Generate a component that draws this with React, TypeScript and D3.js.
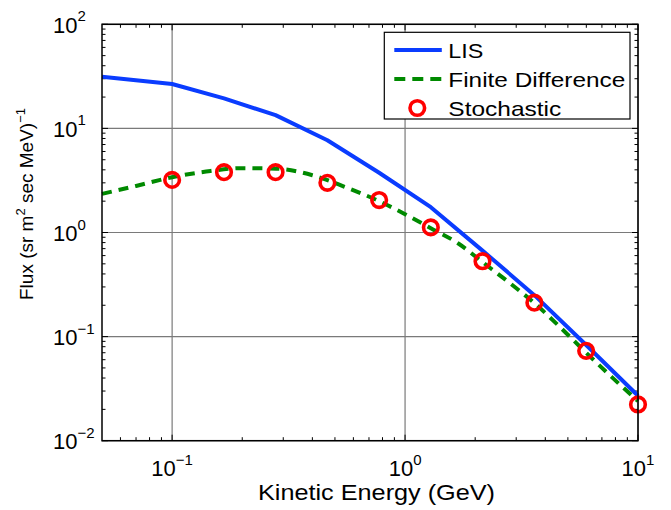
import { useEffect, useRef } from "react";
import * as d3 from "d3";

const WIDTH = 671;
const HEIGHT = 510;

// kinetic energies of the stochastic runs (GeV)
const energy = [0.1, 0.167, 0.278, 0.464, 0.774, 1.29, 2.15, 3.59, 5.99, 10];
const stochFlux = [3.2, 3.8, 3.8, 3.0, 2.05, 1.12, 0.53, 0.212, 0.073, 0.0223];

// local interstellar spectrum
const lisEnergy = [0.05, 0.1, 0.167, 0.278, 0.464, 0.774, 1.29, 2.15, 3.59, 5.99, 10];
const lisFlux = [31.3, 26.7, 19.4, 13.4, 7.7, 3.75, 1.75, 0.67, 0.25, 0.083, 0.027];

// finite difference solution
const fdEnergy = [0.05, 0.07, 0.1, 0.14, 0.2, 0.28, 0.4, 0.55, 0.774, 1.0, 1.29, 1.7, 2.15, 2.8, 3.59, 4.6, 5.99, 7.7, 10];
const fdFlux = [2.35, 2.8, 3.4, 3.85, 4.15, 4.1, 3.55, 2.75, 2.0, 1.5, 1.1, 0.78, 0.52, 0.33, 0.21, 0.125, 0.07, 0.041, 0.024];

const xTickExp = [-1, 0, 1];
const yTickExp = [-2, -1, 0, 1, 2];

const legendLabels = ["LIS", "Finite Difference", "Stochastic"];
// measured label widths in the reference (px)
const legendWidths = [35, 177, 113];

const BLUE = "#0a3cff";
const GREEN = "#008a00";
const RED = "#ff0000";
const FONT = "'Liberation Sans', Arial, Helvetica, sans-serif";

function expLabel(e: number) {
  return e < 0 ? "\u2212" + Math.abs(e) : String(e);
}

function buildChart(svgEl: SVGSVGElement) {
  const margin = { top: 24.3, right: 33, bottom: 69.3, left: 102 };
  const innerW = WIDTH - margin.left - margin.right;
  const innerH = HEIGHT - margin.top - margin.bottom;

  const svg = d3.select(svgEl);
  svg.selectAll("*").remove();
  svg.attr("width", WIDTH).attr("height", HEIGHT).style("font-family", FONT);

  svg.append("rect").attr("width", WIDTH).attr("height", HEIGHT).attr("fill", "#fff");

  const g = svg.append("g").attr("transform", `translate(${margin.left},${margin.top})`);

  const x = d3.scaleLog().domain([0.05, 10]).range([0, innerW]);
  const y = d3.scaleLog().domain([0.01, 100]).range([innerH, 0]);

  // grid at the decades
  xTickExp.forEach(e => {
    const px = x(Math.pow(10, e));
    g.append("line").attr("x1", px).attr("x2", px).attr("y1", 0).attr("y2", innerH)
      .attr("stroke", "#7a7a7a").attr("stroke-width", 1.2);
  });
  yTickExp.forEach(e => {
    const py = y(Math.pow(10, e));
    g.append("line").attr("x1", 0).attr("x2", innerW).attr("y1", py).attr("y2", py)
      .attr("stroke", "#7a7a7a").attr("stroke-width", 1.2);
  });

  // minor ticks, inside, all four sides
  const xMinor: number[] = [];
  for (let k = -2; k <= 0; k++) for (let m = 2; m <= 9; m++) {
    const v = m * Math.pow(10, k);
    if (v > 0.05 && v < 10) xMinor.push(v);
  }
  const yMinor: number[] = [];
  for (let k = -2; k <= 1; k++) for (let m = 2; m <= 9; m++) yMinor.push(m * Math.pow(10, k));

  const tickG = g.append("g").attr("stroke", "#000").attr("stroke-width", 1);
  xMinor.forEach(v => {
    const px = x(v);
    tickG.append("line").attr("x1", px).attr("x2", px).attr("y1", innerH).attr("y2", innerH - 3.5);
    tickG.append("line").attr("x1", px).attr("x2", px).attr("y1", 0).attr("y2", 3.5);
  });
  yMinor.forEach(v => {
    const py = y(v);
    tickG.append("line").attr("x1", 0).attr("x2", 3.5).attr("y1", py).attr("y2", py);
    tickG.append("line").attr("x1", innerW).attr("x2", innerW - 3.5).attr("y1", py).attr("y2", py);
  });
  xTickExp.forEach(e => {
    const px = x(Math.pow(10, e));
    tickG.append("line").attr("x1", px).attr("x2", px).attr("y1", innerH).attr("y2", innerH - 6);
    tickG.append("line").attr("x1", px).attr("x2", px).attr("y1", 0).attr("y2", 6);
  });
  yTickExp.forEach(e => {
    const py = y(Math.pow(10, e));
    tickG.append("line").attr("x1", 0).attr("x2", 6).attr("y1", py).attr("y2", py);
    tickG.append("line").attr("x1", innerW).attr("x2", innerW - 6).attr("y1", py).attr("y2", py);
  });

  // curves
  const clip = svg.append("defs").append("clipPath").attr("id", "plot-clip");
  clip.append("rect").attr("x", -2).attr("y", -2).attr("width", innerW + 4).attr("height", innerH + 4);
  const plot = g.append("g").attr("clip-path", "url(#plot-clip)");

  const lisPts: [number, number][] = lisEnergy.map((e, i) => [e, lisFlux[i]]);
  const fdPts: [number, number][] = fdEnergy.map((e, i) => [e, fdFlux[i]]);

  plot.append("path")
    .datum(lisPts)
    .attr("fill", "none")
    .attr("stroke", BLUE)
    .attr("stroke-width", 4)
    .attr("stroke-linejoin", "round")
    .attr("d", d3.line<[number, number]>().x(d => x(d[0])).y(d => y(d[1])));

  plot.append("path")
    .datum(fdPts)
    .attr("fill", "none")
    .attr("stroke", GREEN)
    .attr("stroke-width", 4)
    .attr("stroke-dasharray", "10 7")
    .attr("d", d3.line<[number, number]>().x(d => x(d[0])).y(d => y(d[1])).curve(d3.curveMonotoneX));

  g.append("g").selectAll("circle")
    .data(energy)
    .join("circle")
    .attr("cx", d => x(d))
    .attr("cy", (d, i) => y(stochFlux[i]))
    .attr("r", 7.3)
    .attr("fill", "none")
    .attr("stroke", RED)
    .attr("stroke-width", 3.6);

  // axes box
  g.append("rect").attr("width", innerW).attr("height", innerH)
    .attr("fill", "none").attr("stroke", "#000").attr("stroke-width", 1.5);

  // tick labels
  xTickExp.forEach(e => {
    const t = g.append("text")
      .attr("x", x(Math.pow(10, e)))
      .attr("y", innerH + 35.3)
      .attr("text-anchor", "middle")
      .attr("font-size", 22)
      .attr("fill", "#000");
    t.append("tspan").text("10");
    t.append("tspan").attr("dy", -11).attr("font-size", 15).text(expLabel(e));
  });
  yTickExp.forEach(e => {
    const t = svg.append("text")
      .attr("x", 53)
      .attr("y", margin.top + y(Math.pow(10, e)) + 8.5)
      .attr("font-size", 22)
      .attr("fill", "#000");
    t.append("tspan").text("10");
    t.append("tspan").attr("dy", -11.5).attr("font-size", 15).text(expLabel(e));
  });

  // axis labels
  svg.append("text")
    .attr("x", 258)
    .attr("y", 500)
    .attr("font-size", 22)
    .attr("textLength", 237)
    .attr("lengthAdjust", "spacingAndGlyphs")
    .attr("fill", "#000")
    .text("Kinetic Energy (GeV)");

  const yl = svg.append("text")
    .attr("transform", "translate(33,204) rotate(-90)")
    .attr("text-anchor", "middle")
    .attr("font-size", 19)
    .attr("fill", "#000");
  yl.append("tspan").text("Flux (sr m");
  yl.append("tspan").attr("dy", -8).attr("font-size", 13).text("2");
  yl.append("tspan").attr("dy", 8).text(" sec MeV)");
  yl.append("tspan").attr("dy", -8).attr("font-size", 13).text("\u22121");

  // legend
  const lg = svg.append("g").attr("transform", "translate(384.3,32.3)");
  lg.append("rect").attr("width", 245.7).attr("height", 86.7)
    .attr("fill", "#fff").attr("stroke", "#000").attr("stroke-width", 1.2);

  const rowY = [17.7, 46.7, 75.7];
  lg.append("line").attr("x1", 10).attr("x2", 57.5).attr("y1", rowY[0]).attr("y2", rowY[0])
    .attr("stroke", BLUE).attr("stroke-width", 4);
  lg.append("line").attr("x1", 10).attr("x2", 57.5).attr("y1", rowY[1]).attr("y2", rowY[1])
    .attr("stroke", GREEN).attr("stroke-width", 4).attr("stroke-dasharray", "11 7");
  lg.append("circle").attr("cx", 33).attr("cy", rowY[2]).attr("r", 7.3)
    .attr("fill", "none").attr("stroke", RED).attr("stroke-width", 3.6);

  legendLabels.forEach((lab, i) => {
    lg.append("text")
      .attr("x", 64)
      .attr("y", rowY[i] + 8)
      .attr("font-size", 21)
      .attr("textLength", legendWidths[i])
      .attr("lengthAdjust", "spacingAndGlyphs")
      .attr("fill", "#000")
      .text(lab);
  });
}

export default function App() {
  const svgRef = useRef<SVGSVGElement>(null);

  useEffect(() => {
    if (svgRef.current) buildChart(svgRef.current);
  }, []);

  return (
    <div style={{ position: "absolute", left: 0, top: 0, width: WIDTH, height: HEIGHT }}>
      <svg ref={svgRef} style={{ display: "block" }} />
    </div>
  );
}
